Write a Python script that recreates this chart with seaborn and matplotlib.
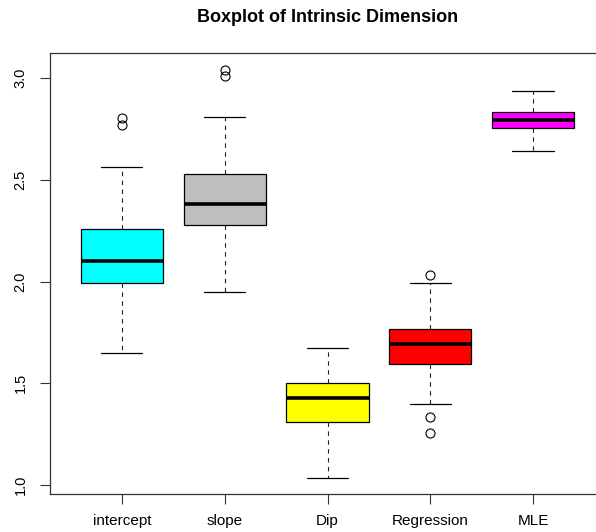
import matplotlib
matplotlib.use("Agg")
import matplotlib.pyplot as plt
import seaborn as sns

# Five-number summaries and outliers for each intrinsic dimension estimator
methods = ["intercept", "slope", "Dip", "Regression", "MLE"]
whisker_low = [1.649, 1.948, 1.037, 1.400, 2.644]
q1 = [1.994, 2.279, 1.310, 1.595, 2.756]
medians = [2.102, 2.384, 1.426, 1.694, 2.795]
q3 = [2.258, 2.530, 1.504, 1.767, 2.836]
whisker_high = [2.564, 2.808, 1.675, 1.993, 2.936]
outliers = [[2.805, 2.770], [3.040, 3.010], [], [2.033, 1.336, 1.258], []]
box_colors = ["#00FFFF", "#BEBEBE", "#FFFF00", "#FF0000", "#FF00FF"]
y_ticks = [1.0, 1.5, 2.0, 2.5, 3.0]
y_tick_labels = ["1.0", "1.5", "2.0", "2.5", "3.0"]

sns.set_theme(style="ticks")
plt.rcParams["font.family"] = ["Liberation Sans", "DejaVu Sans"]

fig = plt.figure(figsize=(5.96, 5.32), dpi=100)
ax = fig.add_axes([50 / 596, 38 / 532, 555 / 596, 441 / 532])

stats = []
for i, name in enumerate(methods):
    stats.append(dict(label=name, whislo=whisker_low[i], q1=q1[i], med=medians[i],
                      q3=q3[i], whishi=whisker_high[i], fliers=outliers[i]))

positions = list(range(1, len(methods) + 1))
bp = ax.bxp(stats, positions=positions, widths=0.8, patch_artist=True,
            showfliers=True, capwidths=0.4,
            boxprops=dict(linewidth=0.9, edgecolor="black"),
            medianprops=dict(color="black", linewidth=2.6, solid_capstyle="butt"),
            whiskerprops=dict(color="#222222", linewidth=0.8, linestyle=(0, (4, 4))),
            capprops=dict(color="black", linewidth=0.9),
            flierprops=dict(marker="o", markersize=6.5, markerfacecolor="none",
                            markeredgecolor="black", markeredgewidth=0.8,
                            linestyle="none"))
for patch, color in zip(bp["boxes"], box_colors):
    patch.set_facecolor(color)

ax.set_xlim(0.3, 5.7)
ax.set_ylim(0.956, 3.124)
ax.set_xticks(positions)
ax.set_xticklabels(methods)
ax.set_yticks(y_ticks)
ax.set_yticklabels(y_tick_labels, rotation=90, va="center")
ax.tick_params(axis="both", length=7.2, width=0.8, color="#333333",
               labelcolor="black")
ax.tick_params(axis="x", pad=7, labelsize=11)
ax.tick_params(axis="y", pad=9, labelsize=10.5)
for spine in ax.spines.values():
    spine.set_visible(True)
    spine.set_linewidth(0.9)
    spine.set_color("#333333")

fig.text(327.5 / 596, 1 - 18 / 532, "Boxplot of Intrinsic Dimension",
         ha="center", va="center", fontsize=13, fontweight="bold", color="black")

fig.savefig("out.png", dpi=100)
